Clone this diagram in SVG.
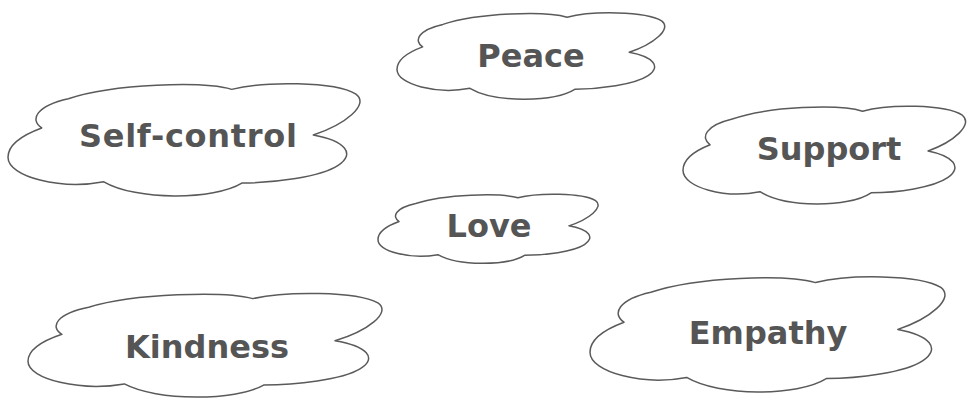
<svg xmlns="http://www.w3.org/2000/svg" xmlns:xlink="http://www.w3.org/1999/xlink" width="971" height="403" viewBox="0 0 971 403">
<style>
.cloud{fill:#fff;stroke:#5a5a5a;stroke-width:1.5;stroke-linejoin:round}
.shape{vector-effect:non-scaling-stroke}
.lbl{font-family:"DejaVu Sans","Liberation Sans",sans-serif;font-weight:bold;font-size:32px;fill:#555;text-anchor:middle}
</style>
<defs>
<path id="cloudShape" class="shape" vector-effect="non-scaling-stroke" d="M 9.5 41 C 6 34, 8 22, 17 16 C 30 3, 55 1, 63 8 C 72 1, 92 1, 98 12 C 102 21, 95 38, 86 47 C 95 52, 98 63, 93 73 C 88 83, 75 88, 66 88 C 58 103, 36 103, 27 87 C 15 94, 0 83, 0 66 C 0 54, 5 46, 9.5 41 Z"/>
</defs>
<rect width="971" height="403" fill="#fff"/>
<g id="connectors"></g>
<g id="peace">
<use xlink:href="#cloudShape" class="cloud" transform="translate(397 10) scale(2.70 0.90)"/>
<text class="lbl" x="531" y="67">Peace</text>
</g>
<g id="self-control">
<use xlink:href="#cloudShape" class="cloud" transform="translate(8 80) scale(3.55 1.17)"/>
<text class="lbl" x="188" y="147" textLength="218" lengthAdjust="spacing">Self-control</text>
</g>
<g id="support">
<use xlink:href="#cloudShape" class="cloud" transform="translate(683 103) scale(2.85 1.02)"/>
<text class="lbl" x="829" y="160">Support</text>
</g>
<g id="love">
<use xlink:href="#cloudShape" class="cloud" transform="translate(378 192) scale(2.22 0.72)"/>
<text class="lbl" x="489" y="237">Love</text>
</g>
<g id="kindness">
<use xlink:href="#cloudShape" class="cloud" transform="translate(28 290) scale(3.57 1.08)"/>
<text class="lbl" x="207" y="358">Kindness</text>
</g>
<g id="empathy">
<use xlink:href="#cloudShape" class="cloud" transform="translate(590 273) scale(3.58 1.20)"/>
<text class="lbl" x="768" y="344">Empathy</text>
</g>
</svg>
